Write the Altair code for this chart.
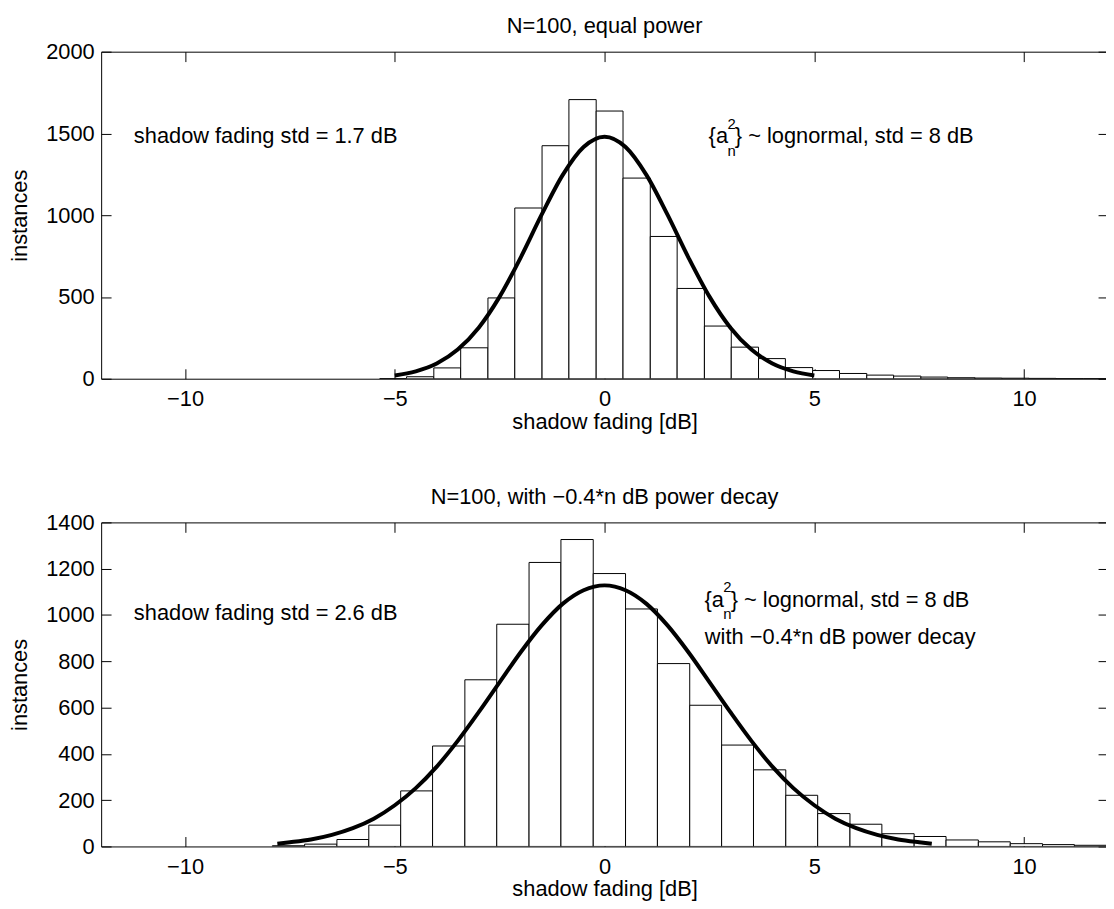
import altair as alt
import pandas as pd

FONT = "Liberation Sans"

# ---------------- data: top panel (equal power) ----------------
top_lo = [-5.36, -4.72, -4.07, -3.43, -2.78, -2.14, -1.49, -0.85, -0.20, 0.44, 1.09, 1.73, 2.38,
          3.02, 3.67, 4.31, 4.96, 5.60, 6.25, 6.89, 7.54, 8.18, 8.83, 9.47, 10.12, 10.76, 11.41]
top_hi = [-4.72, -4.07, -3.43, -2.78, -2.14, -1.49, -0.85, -0.20, 0.44, 1.09, 1.73, 2.38, 3.02,
          3.67, 4.31, 4.96, 5.60, 6.25, 6.89, 7.54, 8.18, 8.83, 9.47, 10.12, 10.76, 11.41, 12.05]
top_counts = [1, 12, 66, 189, 494, 1044, 1425, 1707, 1637, 1227, 870, 552, 322,
              193, 123, 68, 50, 32, 22, 16, 10, 6, 4, 3, 2, 1, 1]

top_curve_x = [-5.0, -4.5, -4.0, -3.5, -3.0, -2.5, -2.0, -1.5, -1.0, -0.5, 0.0,
               0.5, 1.0, 1.5, 2.0, 2.5, 3.0, 3.5, 4.0, 4.5, 5.0]
top_curve_y = [20, 45, 93, 178, 312, 502, 741, 1003, 1245, 1417, 1480,
               1417, 1245, 1003, 741, 502, 312, 178, 93, 45, 20]

# ---------------- data: bottom panel (power decay) ----------------
bot_lo = [-7.92, -7.15, -6.38, -5.62, -4.86, -4.10, -3.33, -2.57, -1.80, -1.04, -0.27, 0.50, 1.26,
          2.03, 2.79, 3.55, 4.32, 5.08, 5.85, 6.61, 7.38, 8.14, 8.91, 9.67, 10.44, 11.20]
bot_hi = [-7.15, -6.38, -5.62, -4.86, -4.10, -3.33, -2.57, -1.80, -1.04, -0.27, 0.50, 1.26, 2.03,
          2.79, 3.55, 4.32, 5.08, 5.85, 6.61, 7.38, 8.14, 8.91, 9.67, 10.44, 11.20, 11.97]
bot_counts = [3, 10, 30, 92, 240, 434, 720, 960, 1227, 1326, 1179, 1026, 790,
              610, 438, 331, 221, 142, 96, 55, 43, 28, 20, 12, 8, 5]

bot_curve_x = [-7.8, -7.5, -7.0, -6.5, -6.0, -5.5, -5.0, -4.5, -4.0, -3.5, -3.0, -2.5, -2.0, -1.5,
               -1.0, -0.5, 0.0, 0.5, 1.0, 1.5, 2.0, 2.5, 3.0, 3.5, 4.0, 4.5, 5.0, 5.5, 6.0, 6.5,
               7.0, 7.5, 7.8]
bot_curve_y = [12, 18, 30, 50, 79, 120, 178, 252, 345, 456, 580, 710, 839, 955,
               1048, 1107, 1128, 1107, 1048, 955, 839, 710, 580, 456, 345, 252, 178, 120, 79, 50,
               30, 18, 12]

x_ticks = [-10, -5, 0, 5, 10]
top_y_ticks = [0, 500, 1000, 1500, 2000]
bot_y_ticks = [0, 200, 400, 600, 800, 1000, 1200, 1400]

titles = ["N=100, equal power", "N=100, with \u22120.4*n dB power decay"]

# annotation anchors (data coordinates)
top_left_note = {"x": -11.22, "y": 1439, "text": "shadow fading std = 1.7 dB"}
top_right_note = {"x": 2.48, "y": 1439}
bot_left_note = {"x": -11.22, "y": 979, "text": "shadow fading std = 2.6 dB"}
bot_right_note = {"x": 2.38, "y": 1036}
bot_right_note2 = {"x": 2.39, "y": 876, "text": "with \u22120.4*n dB power decay"}
right_note_rest = "} ~ lognormal, std = 8 dB"

X_DOMAIN = [-12, 12]
W = 1016


def make_panel(lo, hi, counts, cx, cy, ydom, yticks, height, title, notes):
    bars_df = pd.DataFrame({"lo": lo, "hi": hi, "count": counts})
    curve_df = pd.DataFrame({"x": cx, "y": cy})
    xs = alt.Scale(domain=X_DOMAIN, nice=False, zero=False)
    ys = alt.Scale(domain=ydom, nice=False)

    x_bottom = alt.Axis(values=x_ticks, orient="bottom", offset=-10, tickSize=10, domain=False,
                        grid=False, labelPadding=10, title="shadow fading [dB]", titlePadding=2,
                        labelFlush=False, format="d")
    y_left = alt.Axis(values=yticks, orient="left", offset=-10, tickSize=10, domain=False,
                      grid=False, labelPadding=7, title="instances", titlePadding=14,
                      labelFlush=False, format="d")
    x_top = alt.Axis(values=x_ticks, orient="top", offset=-10, tickSize=10, domain=False,
                     grid=False, labels=False, title=None)
    y_right = alt.Axis(values=yticks, orient="right", offset=-10, tickSize=10, domain=False,
                       grid=False, labels=False, title=None)

    bars = alt.Chart(bars_df).mark_bar(fill="white", stroke="black", strokeWidth=1, clip=True).encode(
        x=alt.X("lo:Q", scale=xs, axis=x_bottom),
        x2="hi:Q",
        y=alt.Y("count:Q", scale=ys, axis=y_left),
        y2=alt.datum(0),
    )
    curve = alt.Chart(curve_df).mark_line(color="black", strokeWidth=4, interpolate="monotone").encode(
        x=alt.X("x:Q", scale=xs, axis=x_top),
        y=alt.Y("y:Q", scale=ys, axis=y_right),
    )

    layers = [bars, curve]
    left, right, extra = notes
    ldf = pd.DataFrame([left])
    layers.append(alt.Chart(ldf).mark_text(align="left", baseline="alphabetic", fontSize=22,
                                           font=FONT, color="black").encode(
        x=alt.X("x:Q", scale=xs, axis=None), y=alt.Y("y:Q", scale=ys, axis=None), text="text:N"))

    rdf = pd.DataFrame([dict(right, a="{a", sup="2", sub="n", rest=right_note_rest)])
    base = alt.Chart(rdf).encode(x=alt.X("x:Q", scale=xs, axis=None), y=alt.Y("y:Q", scale=ys, axis=None))
    layers.append(base.mark_text(align="left", baseline="alphabetic", fontSize=22, font=FONT,
                                 color="black").encode(text="a:N"))
    layers.append(base.mark_text(align="left", baseline="alphabetic", fontSize=15, font=FONT,
                                 color="black", dx=19, dy=-15).encode(text="sup:N"))
    layers.append(base.mark_text(align="left", baseline="alphabetic", fontSize=15, font=FONT,
                                 color="black", dx=19, dy=12.5).encode(text="sub:N"))
    layers.append(base.mark_text(align="left", baseline="alphabetic", fontSize=22, font=FONT,
                                 color="black", dx=26.5).encode(text="rest:N"))
    if extra is not None:
        edf = pd.DataFrame([extra])
        layers.append(alt.Chart(edf).mark_text(align="left", baseline="alphabetic", fontSize=22,
                                               font=FONT, color="black").encode(
            x=alt.X("x:Q", scale=xs, axis=None), y=alt.Y("y:Q", scale=ys, axis=None), text="text:N"))

    return alt.layer(*layers).properties(
        width=W, height=height,
        title=alt.Title(title, fontSize=22, fontWeight="normal", font=FONT, color="black", offset=3),
    )


top = make_panel(top_lo, top_hi, top_counts, top_curve_x, top_curve_y, [0, 2000], top_y_ticks, 330,
                 titles[0], (top_left_note, top_right_note, None))
bottom = make_panel(bot_lo, bot_hi, bot_counts, bot_curve_x, bot_curve_y, [0, 1400], bot_y_ticks, 327,
                    titles[1], (bot_left_note, bot_right_note, bot_right_note2))

chart = alt.vconcat(top, bottom, spacing=52).properties(
    padding={"left": 0, "top": 2, "right": -3, "bottom": 0}
).configure(font=FONT).configure_view(stroke="black", strokeWidth=1).configure_axis(
    labelFont=FONT, titleFont=FONT, labelFontSize=22, titleFontSize=22, labelColor="black",
    titleColor="black", titleFontWeight="normal", tickColor="black", tickWidth=1,
)

chart.save("out.html", embed_options={"renderer": "svg", "actions": False})
